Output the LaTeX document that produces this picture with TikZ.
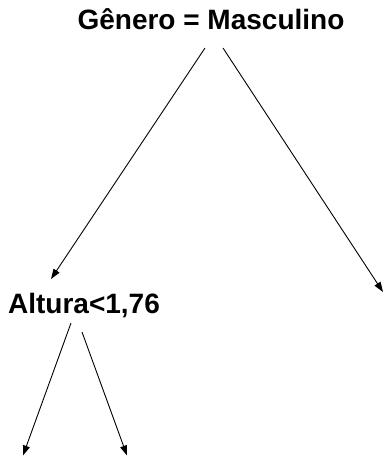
\documentclass[tikz,border=0pt]{standalone}
\usepackage{fontspec}
\setmainfont{Liberation Sans}
\usetikzlibrary{arrows.meta}
\tikzset{
  lbl/.style={font=\bfseries\fontsize{28}{34}\selectfont, inner sep=0pt, anchor=base},
  edge/.style={line width=0.9pt, -{Triangle[length=10pt,width=7pt]}}
}
\begin{document}
\begin{tikzpicture}[x=1pt,y=-1pt]
\useasboundingbox (0,0) rectangle (386,456);
\node[lbl] (root) at (211,29) {Gênero = Masculino};
\node[lbl] (alt) at (84,313) {Altura<1,76};
\coordinate (rootL) at (205,48);
\coordinate (rootR) at (223,48);
\coordinate (altL) at (71,323);
\coordinate (altR) at (82,332);
\coordinate (altTip) at (51,279);
\coordinate (leafR) at (383,292);
\coordinate (leafLL) at (23,455.5);
\coordinate (leafLR) at (127,455.5);
\draw[edge] (rootL) -- (altTip);
\draw[edge] (rootR) -- (leafR);
\draw[edge] (altL) -- (leafLL);
\draw[edge] (altR) -- (leafLR);
\end{tikzpicture}
\end{document}
